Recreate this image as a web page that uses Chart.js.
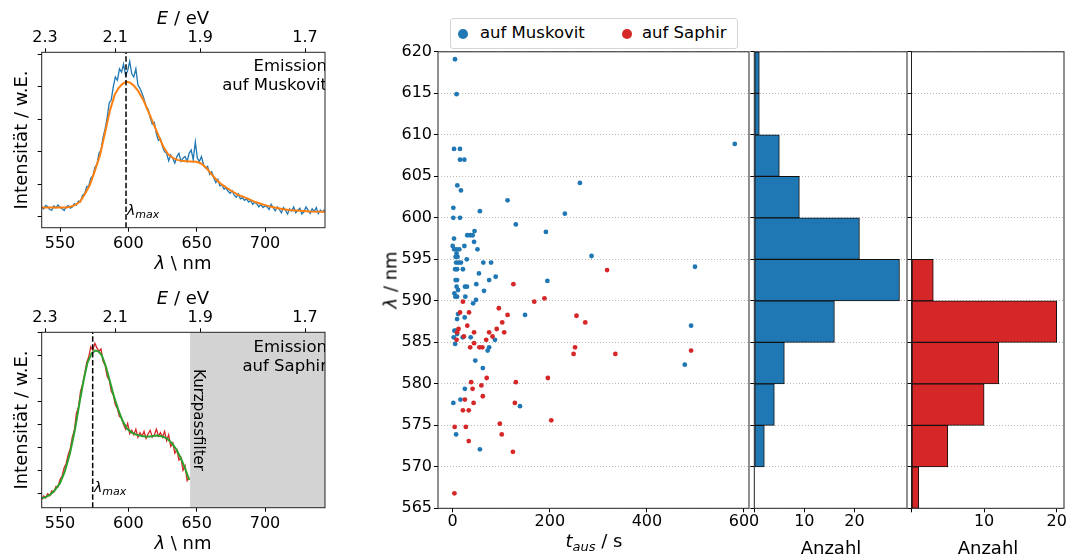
<!DOCTYPE html>
<html>
<head>
<meta charset="utf-8">
<script src="https://cdn.jsdelivr.net/npm/chart.js@4.4.1/dist/chart.umd.min.js"></script>
<style>
  body { margin: 0; width: 1070px; height: 556px; position: relative; overflow: hidden; background: #fff;
         font-family: 'DejaVu Sans', sans-serif; color: #000; }
  canvas { position: absolute; }
  .lbl { position: absolute; white-space: nowrap; transform: translate(-50%, -50%); font-size: 18px; }
  .rot { transform: translate(-50%, -50%) rotate(-90deg); }
  .lmax { position: absolute; white-space: nowrap; font-size: 14px; }
  .lmax sub { font-size: 11px; vertical-align: -3px; }
  .clip { position: absolute; overflow: hidden; }
  .note { position: absolute; right: -2px; text-align: right; font-size: 16.5px; line-height: 19.3px; white-space: nowrap; }
  .legende { position: absolute; left: 450px; top: 18px; width: 286px; height: 29px; border: 1px solid #d5d5d5;
             border-radius: 3px; background: #fff; font-size: 16.5px; }
  .legende span { position: absolute; top: 4px; }
  .dot { position: absolute; width: 10px; height: 10px; border-radius: 50%; top: 10px; }
</style>
</head>
<body>
<canvas id="spekMuskovit" width="340" height="280" style="left:0;top:0"></canvas>
<canvas id="spekSaphir" width="340" height="280" style="left:0;top:280px"></canvas>
<canvas id="streuung" width="380" height="556" style="left:380px;top:0"></canvas>
<canvas id="histMuskovit" width="170" height="556" style="left:744px;top:0"></canvas>
<canvas id="histSaphir" width="170" height="556" style="left:900px;top:0"></canvas>

<!-- Beschriftungen Spektren -->
<div class="lbl" style="left:183px;top:17px"><i>E</i> / eV</div>
<div class="lbl" style="left:183px;top:262px"><i>λ</i> \ nm</div>
<div class="lbl rot" style="left:20px;top:140px">Intensität / w.E.</div>
<div class="lmax" style="left:127px;top:202px"><i>λ</i><sub><i>max</i></sub></div>
<div class="clip" style="left:42px;top:52px;width:283px;height:176px">
  <div class="note" style="top:4px">Emission<br>auf Muskovit</div>
</div>

<div class="lbl" style="left:183px;top:297px"><i>E</i> / eV</div>
<div class="lbl" style="left:183px;top:542px"><i>λ</i> \ nm</div>
<div class="lbl rot" style="left:20px;top:420px">Intensität / w.E.</div>
<div class="lmax" style="left:94px;top:479px"><i>λ</i><sub><i>max</i></sub></div>
<div class="clip" style="left:42px;top:332px;width:283px;height:176px">
  <div class="note" style="top:5px">Emission<br>auf Saphir</div>
</div>
<div class="lbl" style="left:199px;top:420px;font-size:15px;transform:translate(-50%,-50%) rotate(90deg)">Kurzpassfilter</div>

<!-- Beschriftungen Streudiagramm und Histogramme -->
<div class="legende">
  <div class="dot" style="left:7px;background:#1f77b4"></div><span style="left:29px">auf Muskovit</span>
  <div class="dot" style="left:171px;background:#d62728"></div><span style="left:191px">auf Saphir</span>
</div>
<div class="lbl rot" style="left:390px;top:280px"><i>λ</i> / nm</div>
<div class="lbl" style="left:594px;top:542px"><i>t</i><sub style="font-size:13px"><i>aus</i></sub> / s</div>
<div class="lbl" style="left:831px;top:547px">Anzahl</div>
<div class="lbl" style="left:988px;top:547px">Anzahl</div>

<script>
// Spektren: Wellenlaengenraster in nm, Intensitaet in willkuerlichen Einheiten
const specStart = 536.5, specStep = 1.5;
const hc = 1239.84; // eV * nm

const muskovitMessung = [
  0.30, 0.24, 0.35, 0.31, 0.22, 0.20, 0.33, 0.27, 0.36, 0.29,
  0.24, 0.19, 0.30, 0.34, 0.26, 0.30, 0.40, 0.36, 0.48, 0.46,
  0.66, 0.70, 0.92, 0.95, 1.18, 1.25, 1.52, 1.60, 1.95, 2.05,
  2.45, 2.70, 3.05, 3.50, 3.60, 4.00, 4.30, 4.20, 4.55, 4.45,
  4.70, 4.35, 4.50, 4.78, 4.40, 4.30, 4.55, 4.05, 3.95, 3.80,
  3.62, 3.40, 3.30, 3.05, 2.85, 2.90, 2.55, 2.35, 2.40, 2.15,
  2.00, 1.95, 1.72, 1.90, 1.80, 1.65, 1.85, 1.95, 1.70, 1.80,
  1.85, 1.70, 1.95, 2.05, 1.75, 2.30, 1.80, 1.70, 1.85, 1.60,
  1.50, 1.55, 1.30, 1.38, 1.20, 1.05, 1.15, 0.95, 0.98, 0.85,
  0.88, 0.78, 0.72, 0.80, 0.66, 0.60, 0.70, 0.55, 0.58, 0.50,
  0.55, 0.45, 0.50, 0.38, 0.44, 0.40, 0.30, 0.38, 0.28, 0.33,
  0.30, 0.22, 0.38, 0.27, 0.18, 0.30, 0.22, 0.12, 0.28, 0.20,
  0.08, 0.24, 0.17, 0.30, 0.12, 0.19, 0.26, 0.08, 0.15, 0.30,
  0.20, 0.10, 0.24, 0.16, 0.28, 0.09, 0.20, 0.14, 0.22
];
const muskovitFitLambda = [536.6, 554.9, 558, 561, 564.6, 568, 571.9, 575, 579.3, 583, 586.6, 590, 592.7, 595.5,
  598.3, 601, 603.6, 607, 611, 614.5, 618.3, 622, 625.6, 629, 632.9, 636.5, 640.2, 645, 650, 653.5, 657.3, 661,
  664.6, 669, 674.4, 680, 686.6, 693, 701.2, 707, 713.4, 719, 725.6, 733, 743.9];
const muskovitFit = [0.28, 0.28, 0.31, 0.36, 0.46, 0.68, 0.98, 1.35, 1.90, 2.60, 3.28, 3.75, 3.95, 4.08,
  4.15, 4.13, 4.05, 3.88, 3.59, 3.25, 2.87, 2.50, 2.15, 1.93, 1.80, 1.74, 1.71, 1.70, 1.69, 1.63, 1.49, 1.30,
  1.13, 0.97, 0.82, 0.68, 0.57, 0.45, 0.34, 0.28, 0.23, 0.20, 0.18, 0.16, 0.15];

const saphirMessung = [
  -0.28, -0.12, -0.20, -0.02, -0.10, 0.10, 0.05, 0.30, 0.28, 0.60,
  0.75, 1.10, 1.30, 1.70, 1.95, 2.45, 2.75, 3.50, 3.75, 4.45,
  4.75, 5.20, 5.70, 5.95, 6.40, 6.25, 6.55, 6.35, 6.20, 6.30,
  5.75, 5.60, 5.10, 4.95, 4.45, 4.30, 3.85, 3.70, 3.35, 3.30,
  3.00, 2.80, 3.05, 2.60, 2.75, 2.55, 2.80, 2.45, 2.65, 2.50,
  2.70, 2.40, 2.60, 2.75, 2.45, 2.55, 2.80, 2.50, 2.65, 2.45,
  2.70, 2.30, 2.55, 2.05, 2.20, 1.75, 1.90, 1.45, 1.55, 1.00,
  1.20, 0.55, 0.70
];
const saphirFitLambda = [536.5, 539, 542.7, 546, 550, 553.5, 557.3, 561, 564.6, 567.5, 570, 573, 575.6, 578,
  580.5, 583.5, 586.6, 589.5, 592.7, 595.5, 598.8, 602.5, 606.1, 610, 613.4, 617, 620.7, 624.5, 628.1, 632,
  635.4, 638.5, 641.5, 644.6];
const saphirFit = [-0.22, -0.18, -0.07, 0.12, 0.44, 0.95, 1.75, 2.80, 4.07, 5.00, 5.68, 6.10, 6.23, 6.20,
  6.04, 5.55, 4.87, 4.22, 3.64, 3.20, 2.84, 2.65, 2.55, 2.50, 2.47, 2.49, 2.52, 2.49, 2.40, 2.18,
  1.89, 1.52, 1.09, 0.58];

const lambdaMaxMuskovit = 598.3;
const lambdaMaxSaphir = 573.9;
const kurzpassKante = 645.2;

const lambdaTicksSpektrum = [550, 600, 650, 700];
const energieTicks = [2.3, 2.1, 1.9, 1.7];
const intensTicksMuskovit = [0, 1, 2, 3, 4, 5];
const intensTicksSaphir = [0, 1, 2, 3, 4, 5, 6, 7];

// Einzelmessungen: Ausschaltzeit t_aus (s) gegen Emissionsmaximum (nm)
const tMuskovit = [4.7, 8, 2.7, 15, 15, 24, 9.5, 17, 1.3, 56, 113, 1.3, 15, 130, 2.7, 30, 36, 41, 45, 44,
  24, 0, 3, 8, 13.6, 8, 6, 10, 51, 29, 7, 12, 17, 63, 79, 5, 9, 21, 54, 192,
  231, 88.5, 75, 6, 9, 195, 262, 286, 499, 581, 491, 478, 48.6, 25.3, 29.4, 8, 11, 64.5, 3.5, 5.5,
  9, 26, 48, 42, 149, 11, 9, 24.7, 3.5, 7, 9, 2, 5, 20.6, 37, 72, 75, 87, 46.5, 62,
  25, 1.3, 16, 138.6, 7, 56];
const lambdaMuskovit = [619.1, 614.9, 608.3, 608.3, 607.0, 607.0, 603.9, 603.3, 601.2, 600.8, 602.1, 600.0, 600.0, 599.2, 597.5, 597.9, 597.9, 597.9, 598.4, 597.1,
  596.6, 596.6, 596.2, 596.2, 596.2, 595.7, 595.3, 595.3, 596.2, 595.0, 594.6, 594.6, 594.6, 594.6, 594.6, 593.8, 593.8, 593.8, 593.3, 598.3,
  600.5, 592.9, 592.5, 592.5, 592.5, 592.4, 604.2, 595.4, 594.1, 608.9, 587.0, 582.3, 592.0, 591.7, 591.7, 591.7, 591.3, 591.2, 590.9, 590.5,
  590.5, 590.5, 590.1, 589.7, 588.3, 588.4, 587.8, 588.0, 586.4, 586.4, 586.0, 585.6, 584.8, 585.6, 585.6, 584.0, 584.4, 585.3, 582.8, 581.9,
  579.4, 577.7, 578.1, 577.3, 573.9, 572.1];
const tSaphir = [318, 255, 273, 252, 249, 335, 491, 125, 168, 189, 21, 15, 33.6, 95, 113, 102, 30, 106, 90.6, 12,
  9, 44, 75, 82, 23, 8, 69, 44, 36, 55, 61, 70, 38, 59, 130, 196, 41, 62, 25, 43,
  128, 21, 33, 203, 97, 4, 27, 101, 33, 124, 3.5];
const lambdaSaphir = [593.7, 588.2, 587.4, 584.4, 583.6, 583.6, 584.0, 592.0, 589.9, 590.3, 589.9, 588.6, 588.6, 589.1, 588.3, 587.4, 587.0, 586.2, 586.6, 586.6,
  586.2, 586.2, 586.2, 585.7, 585.7, 585.3, 585.3, 584.9, 584.4, 584.4, 584.4, 580.7, 580.2, 579.8, 580.2, 580.7, 579.4, 578.5, 578.1, 577.7,
  577.7, 576.8, 576.8, 575.6, 575.2, 574.8, 574.8, 573.9, 573.1, 571.8, 566.8];

// Histogramme: Klassenmitten (5-nm-Klassen) und Anzahl je Klasse
const klassenMitten = [617.5, 612.5, 607.5, 602.5, 597.5, 592.5, 587.5, 582.5, 577.5, 572.5, 567.5];
const anzahlMuskovit = [1, 1, 5, 9, 21, 29, 16, 6, 4, 2, 0];
const anzahlSaphir = [0, 0, 0, 0, 0, 3, 20, 12, 10, 5, 1];

const lambdaTicks = [565, 570, 575, 580, 585, 590, 595, 600, 605, 610, 615, 620];
const tTicks = [0, 200, 400, 600];
const anzahlTicks = [0, 10, 20];

const blau = '#1f77b4', orange = '#ff7f0e', rot = '#d62728', gruen = '#2ca02c';

Chart.defaults.font.family = "'DejaVu Sans', sans-serif";
Chart.defaults.font.size = 16;
Chart.defaults.color = '#000';
Chart.defaults.animation = false;
Chart.defaults.plugins.legend.display = false;
Chart.defaults.plugins.tooltip.enabled = false;

const festeBreite = px => s => { s.width = px; };
const festeHoehe = px => s => { s.height = px; };
const festeTicks = werte => s => { s.ticks = werte.map(v => ({ value: v })); };

// Achsenstriche nach aussen, keine Gitterlinien
const nurStriche = { drawOnChartArea: false, drawTicks: true, tickLength: 4, color: '#000', lineWidth: 1 };
// gepunktete Gitterlinien plus Achsenstriche
const punktGitter = { drawOnChartArea: true, drawTicks: true, tickLength: 4, color: '#b8b8b8', tickColor: '#000',
  lineWidth: 1, offset: false };

// Rahmen um die Achsenflaeche
const rahmen = {
  id: 'rahmen',
  afterDatasetsDraw(chart, args, opts) {
    const { ctx, chartArea: a } = chart;
    ctx.save();
    ctx.strokeStyle = opts.color || '#222';
    ctx.lineWidth = 1;
    ctx.strokeRect(a.left, a.top, a.right - a.left, a.bottom - a.top);
    ctx.restore();
  }
};

// grau hinterlegter Bereich des Kurzpassfilters
const filterFlaeche = {
  id: 'filterFlaeche',
  beforeDatasetsDraw(chart, args, opts) {
    if (opts.ab == null) return;
    const { ctx, chartArea: a } = chart;
    const x = chart.scales.x.getPixelForValue(opts.ab);
    ctx.save();
    ctx.fillStyle = '#d3d3d3';
    ctx.fillRect(x, a.top, a.right - x, a.bottom - a.top);
    ctx.restore();
  }
};

function spektrum(id, messung, messFarbe, fitLambda, fitWerte, fitFarbe, lambdaMax, yMin, yMax, yTicks, filterAb) {
  const messPunkte = messung.map((v, i) => ({ x: specStart + i * specStep, y: v }));
  const fitPunkte = fitLambda.map((l, i) => ({ x: l, y: fitWerte[i] }));
  return new Chart(document.getElementById(id), {
    type: 'line',
    data: {
      datasets: [
        { data: [{ x: lambdaMax, y: yMin }, { x: lambdaMax, y: yMax }], borderColor: '#000', borderWidth: 1.5,
          borderDash: [5.5, 2.4], pointRadius: 0, order: 1 },
        { data: fitPunkte, borderColor: fitFarbe, borderWidth: 2, pointRadius: 0, order: 2 },
        { data: messPunkte, borderColor: messFarbe, borderWidth: 1.3, pointRadius: 0, order: 3 }
      ]
    },
    options: {
      responsive: false,
      layout: { padding: { right: 15 } },
      plugins: { filterFlaeche: { ab: filterAb } },
      scales: {
        x: {
          type: 'linear', position: 'bottom', min: 536.6, max: 743.9,
          afterBuildTicks: festeTicks(lambdaTicksSpektrum), afterFit: festeHoehe(52.3),
          grid: nurStriche, border: { display: false }, ticks: { padding: 3 }
        },
        xE: {
          type: 'linear', position: 'top', min: 536.6, max: 743.9,
          afterBuildTicks: s => { s.ticks = energieTicks.map(e => ({ value: hc / e })); },
          afterFit: festeHoehe(52.3),
          grid: nurStriche, border: { display: false },
          ticks: { padding: 1, callback: v => (hc / v).toFixed(1) }
        },
        y: {
          type: 'linear', min: yMin, max: yMax,
          afterBuildTicks: festeTicks(yTicks), afterFit: festeBreite(41.7),
          grid: nurStriche, border: { display: false }, ticks: { display: false }
        }
      }
    },
    plugins: [filterFlaeche, rahmen]
  });
}

spektrum('spekMuskovit', muskovitMessung, blau, muskovitFitLambda, muskovitFit, orange,
  lambdaMaxMuskovit, -0.34, 5.06, intensTicksMuskovit, null);
spektrum('spekSaphir', saphirMessung, rot, saphirFitLambda, saphirFit, gruen,
  lambdaMaxSaphir, -0.63, 7.03, intensTicksSaphir, kurzpassKante);

// Streudiagramm
new Chart(document.getElementById('streuung'), {
  type: 'scatter',
  data: {
    datasets: [
      { label: 'auf Muskovit', data: tMuskovit.map((t, i) => ({ x: t, y: lambdaMuskovit[i] })),
        backgroundColor: blau, borderWidth: 0, pointRadius: 2.4, order: 1 },
      { label: 'auf Saphir', data: tSaphir.map((t, i) => ({ x: t, y: lambdaSaphir[i] })),
        backgroundColor: rot, borderWidth: 0, pointRadius: 2.4, order: 0 }
    ]
  },
  options: {
    responsive: false,
    layout: { padding: { top: 51.8, right: 11 } },
    scales: {
      x: {
        type: 'linear', min: -30.3, max: 610.3,
        afterBuildTicks: festeTicks(tTicks), afterFit: festeHoehe(47.7),
        grid: nurStriche, border: { display: false }, ticks: { padding: 0 }
      },
      y: {
        type: 'linear', min: 565, max: 620,
        afterBuildTicks: festeTicks(lambdaTicks), afterFit: festeBreite(58),
        grid: punktGitter, border: { display: false, dash: [1, 2] }, ticks: { padding: 2 }
      }
    }
  },
  plugins: [rahmen]
});

function histogramm(id, anzahl, farbe, xMax, yBreite, rechts) {
  return new Chart(document.getElementById(id), {
    type: 'bar',
    data: {
      datasets: [{
        data: klassenMitten.map((m, i) => ({ x: anzahl[i], y: m })),
        backgroundColor: farbe, borderColor: '#111', borderWidth: 1, borderSkipped: false,
        barPercentage: 1, categoryPercentage: 1
      }]
    },
    options: {
      responsive: false,
      indexAxis: 'y',
      layout: { padding: { top: 51.8, right: rechts } },
      scales: {
        x: {
          type: 'linear', min: 0, max: xMax,
          afterBuildTicks: festeTicks(anzahlTicks), afterFit: festeHoehe(47.7),
          grid: nurStriche, border: { display: false },
          ticks: { padding: 0, callback: v => (v === 0 ? '' : v) }
        },
        y: {
          type: 'linear', min: 565, max: 620, offset: false,
          afterBuildTicks: festeTicks(lambdaTicks), afterFit: festeBreite(yBreite),
          grid: punktGitter, border: { display: false, dash: [1, 2] }, ticks: { display: false }
        }
      }
    },
    plugins: [rahmen]
  });
}

histogramm('histMuskovit', anzahlMuskovit, blau, 30.5, 10.3, 7);
histogramm('histSaphir', anzahlSaphir, rot, 21, 11.5, 6);
</script>
</body>
</html>
